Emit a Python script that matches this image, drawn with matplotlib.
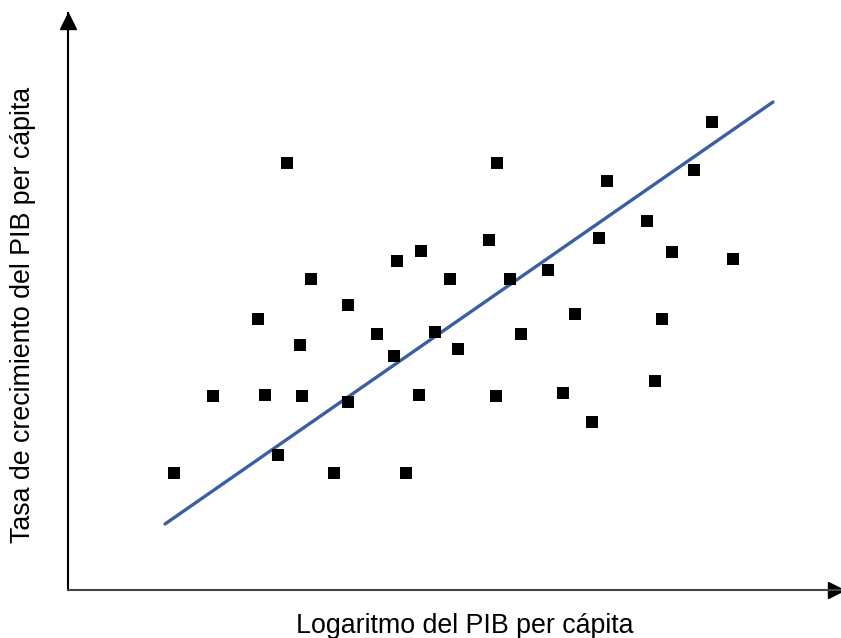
import matplotlib
matplotlib.use('Agg')
import matplotlib.pyplot as plt

plt.rcParams['font.family'] = ['Liberation Sans', 'DejaVu Sans']

# puntos (log PIB per cápita, tasa de crecimiento), unidades arbitrarias
log_pib = [10.6, 14.5, 19.0, 19.7, 21.0, 21.9, 23.2, 23.4, 24.3, 26.6,
           28.0, 28.0, 30.9, 32.6, 32.9, 33.8, 35.1, 35.3, 36.7, 38.2,
           39.0, 42.1, 42.8, 42.9, 44.2, 45.3, 48.0, 49.5, 50.7, 52.4,
           53.1, 53.9, 57.9, 58.7, 59.4, 60.4, 62.6, 64.4, 66.5]
crecimiento = [11.7, 19.4, 27.1, 19.5, 13.5, 42.7, 24.5, 19.4, 31.1, 11.7,
               28.5, 18.8, 25.6, 23.4, 32.9, 11.7, 19.5, 33.9, 25.8, 31.1,
               24.1, 35.0, 19.4, 42.7, 31.1, 25.6, 32.0, 19.7, 27.6, 16.8,
               35.2, 40.9, 36.9, 20.9, 27.1, 33.8, 42.0, 46.8, 33.1]

# recta de ajuste
fit_x = [9.7, 70.5]
fit_y = [6.6, 48.8]

xmax, ymax = 77.2, 57.7

fig = plt.figure(figsize=(8.41, 6.38), dpi=100)
ax = fig.add_axes([68 / 841, 48 / 638, 772 / 841, 577 / 638])

ax.plot(fit_x, fit_y, color='#3a5fa3', linewidth=2.4, solid_capstyle='round', zorder=2)
ax.scatter(log_pib, crecimiento, marker='s', s=74, color='black', linewidths=0, zorder=3)

ax.set_xlim(0, xmax)
ax.set_ylim(0, ymax)
for s in ['top', 'right']:
    ax.spines[s].set_visible(False)
ax.spines['left'].set_linewidth(1.5)
ax.spines['bottom'].set_linewidth(1.5)
ax.spines['bottom'].set_color('#444444')
ax.set_xticks([])
ax.set_yticks([])

# flechas de los ejes
ax.plot([0], [ymax - 0.75], marker='^', markersize=11, color='black', clip_on=False)
ax.plot([xmax - 0.45], [0], marker='>', markersize=11, color='black', clip_on=False)

fig.text(465 / 841, 1 - 626 / 638, 'Logaritmo del PIB per cápita',
         ha='center', va='center', fontsize=19.3)
fig.text(23 / 841, 1 - 315 / 638, 'Tasa de crecimiento del PIB per cápita',
         ha='center', va='center', rotation=90, fontsize=19.3)

fig.savefig('out.png', dpi=100)
